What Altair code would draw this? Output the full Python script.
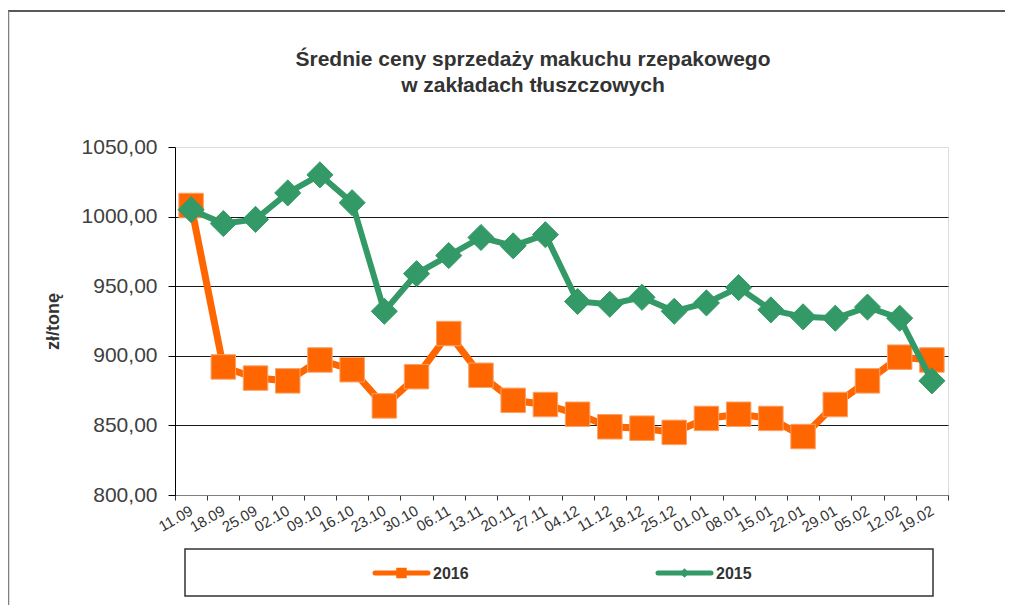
import altair as alt
import pandas as pd

dates = ["11.09", "18.09", "25.09", "02.10", "09.10", "16.10", "23.10", "30.10",
         "06.11", "13.11", "20.11", "27.11", "04.12", "11.12", "18.12", "25.12",
         "01.01", "08.01", "15.01", "22.01", "29.01", "05.02", "12.02", "19.02"]
v2016 = [1008, 892, 884, 882, 897, 890, 864, 885, 916, 886, 868, 865,
         858, 849, 848, 845, 855, 858, 855, 842, 865, 882, 899, 897]
v2015 = [1005, 995, 998, 1017, 1030, 1010, 932, 959, 972, 985, 979, 987,
         939, 937, 942, 932, 938, 949, 933, 928, 927, 935, 927, 882]
series = ["2016", "2015"]
colors = ["#FF6600", "#339966"]
y_ticks = [800, 850, 900, 950, 1000, 1050]
title_lines = ["Średnie ceny sprzedaży makuchu rzepakowego", "w zakładach tłuszczowych"]
y_title = "zł/tonę"

df = pd.DataFrame({
    "date": dates * 2,
    "value": v2016 + v2015,
    "series": [series[0]] * len(dates) + [series[1]] * len(dates),
})

W, H = 773, 348
FONT = "Liberation Sans"

x_enc = alt.X(
    "date:N", sort=dates, bandPosition=0.5,
    scale=alt.Scale(type="band", paddingInner=0, paddingOuter=0),
    axis=alt.Axis(title=None, tickBand="extent", labelAngle=-30, labelAlign="right",
                  labelBaseline="middle", labelPadding=9, labelFontSize=15,
                  labelColor="#333333", tickSize=5, tickColor="#333333",
                  domainColor="#808080", grid=False, labelFont=FONT),
)
y_enc = alt.Y(
    "value:Q",
    scale=alt.Scale(domain=[800, 1050], nice=False, zero=False),
    axis=alt.Axis(values=y_ticks, title=y_title,
                  labelExpr="replace(format(datum.value, '.2f'), '.', ',')",
                  labelFontSize=21, labelColor="#404040", labelPadding=11,
                  labelFont=FONT, tickSize=7, tickColor="#000000",
                  domainColor="#000000", grid=True, gridColor="#1a1a1a",
                  gridOpacity={"condition": {"test": "datum.value >= 1050", "value": 0}, "value": 1},
                  titleFontSize=18, titleFontWeight="bold", titleColor="#333333",
                  titleFont=FONT, titleAngle=270, titleX=-113, titleY=174,
                  titleAlign="center", titleBaseline="bottom"),
)

base = alt.Chart(df).encode(x=x_enc, y=y_enc)

l16 = base.transform_filter(alt.datum.series == series[0]).mark_line(
    color=colors[0], strokeWidth=7)
p16 = base.transform_filter(alt.datum.series == series[0]).mark_point(
    shape="square", filled=True, size=600, fill=colors[0], stroke="#F7A36B",
    strokeWidth=1, opacity=1)
l15 = base.transform_filter(alt.datum.series == series[1]).mark_line(
    color=colors[1], strokeWidth=6)
p15 = base.transform_filter(alt.datum.series == series[1]).mark_point(
    shape="diamond", filled=True, size=680, fill=colors[1], stroke=colors[1],
    strokeWidth=1, opacity=1)

one = pd.DataFrame({"k": [0]})

# chart title (two lines)
title1 = alt.Chart(one).mark_text(align="center", baseline="middle", fontSize=21,
                                   fontWeight="bold", color="#333333", font=FONT).encode(
    x=alt.value(358), y=alt.value(-87), text=alt.value(title_lines[0]))
title2 = alt.Chart(one).mark_text(align="center", baseline="middle", fontSize=21,
                                   fontWeight="bold", color="#333333", font=FONT).encode(
    x=alt.value(358), y=alt.value(-61), text=alt.value(title_lines[1]))

# outer frame
frame_top = alt.Chart(one).mark_rule(color="#222222", strokeWidth=1.5).encode(
    x=alt.value(-167), x2=alt.value(830), y=alt.value(-136))
frame_left = alt.Chart(one).mark_rule(color="#808080", strokeWidth=1.5).encode(
    x=alt.value(-166.5), y=alt.value(-136), y2=alt.value(460))

# legend box
leg_box = alt.Chart(one).mark_rect(fill="white", stroke="#333333", strokeWidth=1.5).encode(
    x=alt.value(10), x2=alt.value(758), y=alt.value(402), y2=alt.value(449))
leg_line16 = alt.Chart(one).mark_rule(color=colors[0], strokeWidth=5, strokeCap="round").encode(
    x=alt.value(200), x2=alt.value(253), y=alt.value(426))
leg_pt16 = alt.Chart(one).mark_point(shape="square", filled=True, size=110, fill=colors[0], opacity=1).encode(
    x=alt.value(226.5), y=alt.value(426))
leg_txt16 = alt.Chart(one).mark_text(align="left", baseline="middle", fontSize=16,
                                      fontWeight="bold", color="#333333", font=FONT).encode(
    x=alt.value(258), y=alt.value(427), text=alt.value(series[0]))
leg_line15 = alt.Chart(one).mark_rule(color=colors[1], strokeWidth=5, strokeCap="round").encode(
    x=alt.value(483), x2=alt.value(536), y=alt.value(426))
leg_pt15 = alt.Chart(one).mark_point(shape="diamond", filled=True, size=90, fill=colors[1], opacity=1).encode(
    x=alt.value(509.5), y=alt.value(426))
leg_txt15 = alt.Chart(one).mark_text(align="left", baseline="middle", fontSize=16,
                                      fontWeight="bold", color="#333333", font=FONT).encode(
    x=alt.value(541), y=alt.value(427), text=alt.value(series[1]))

chart = alt.layer(
    frame_top, frame_left, title1, title2, l16, p16, l15, p15,
    leg_box, leg_line16, leg_pt16, leg_txt16, leg_line15, leg_pt15, leg_txt15,
).properties(
    width=W, height=H,
    autosize=alt.AutoSizeParams(type="none"),
    padding={"left": 167, "top": 139, "right": 58, "bottom": 110},
).configure_view(stroke=None).configure(background="white")

chart.save("out.html", embed_options={"renderer": "svg", "actions": False})
